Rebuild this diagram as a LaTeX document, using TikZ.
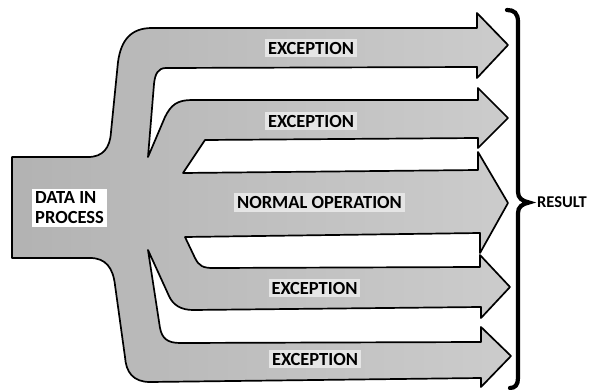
\documentclass[tikz,border=0pt]{standalone}
\usepackage{fontspec}
\setmainfont{Carlito}
\begin{document}
\begin{tikzpicture}[x=1pt,y=-1pt,
  flow/.style={draw=black, line width=1.7pt, line join=round, left color=black!30, right color=black!20},
  lab/.style={font=\bfseries\fontsize{18.5}{20}\selectfont, inner sep=3pt, fill=black!10},
  brace/.style={draw=black, line width=4.2pt, line join=miter, line cap=round}]
\useasboundingbox (0,0) rectangle (592,390);
\path[flow] (12,157) -- (88,157)
 .. controls (103,157) and (110,148) .. (111,132)
 -- (118,62)
 .. controls (121,40) and (131,28) .. (152,28)
 -- (477,28) -- (477,13) -- (508,45) -- (477,78) -- (477,67)
 -- (166,68)
 .. controls (158,68) and (155,74) .. (154,84)
 -- (148,157)
 -- (165,117)
 .. controls (171,105) and (177,100) .. (192,100)
 -- (478,100) -- (478,88) -- (508,118) -- (478,148) -- (478,138)
 -- (205,140) -- (183,173)
 -- (478,170) -- (478,152) -- (508,203) -- (480,253) -- (480,233)
 -- (185,237)
 -- (195,258)
 .. controls (199,266) and (203,268) .. (213,268)
 -- (480,267) -- (480,255) -- (510,287) -- (481,318) -- (481,307)
 -- (193,310)
 .. controls (181,310) and (173,305) .. (169,296)
 -- (148,250)
 -- (160,328)
 .. controls (162,338) and (167,343) .. (180,343)
 -- (481,342) -- (481,327) -- (511,356) -- (481,387) -- (481,378)
 -- (150,382)
 .. controls (133,382) and (126,372) .. (125,357)
 -- (115,285)
 .. controls (113,268) and (106,258) .. (90,258)
 -- (12,258) -- cycle;
\path[brace] (507,10) .. controls (514,10) and (518,13) .. (518,22)
 -- (518,192) .. controls (518,198) and (522,201) .. (529,202.5)
 .. controls (522,204) and (518,207) .. (518,213)
 -- (518,378) .. controls (518,385) and (515,388) .. (510,388);
\node[lab] (exc1) at (311,48) {EXCEPTION};
\node[lab] (exc2) at (311,121) {EXCEPTION};
\node[lab] (normal) at (319.5,202.5) {NORMAL OPERATION};
\node[lab] (exc3) at (314.5,288) {EXCEPTION};
\node[lab] (exc4) at (315,359) {EXCEPTION};
\node[lab, fill=white, anchor=west, align=left] (data) at (32,208) {DATA IN\\PROCESS};
\node[font=\bfseries\fontsize{16.5}{18}\selectfont, inner sep=0pt, anchor=west] (result) at (537,202.5) {RESULT};
\end{tikzpicture}
\end{document}
